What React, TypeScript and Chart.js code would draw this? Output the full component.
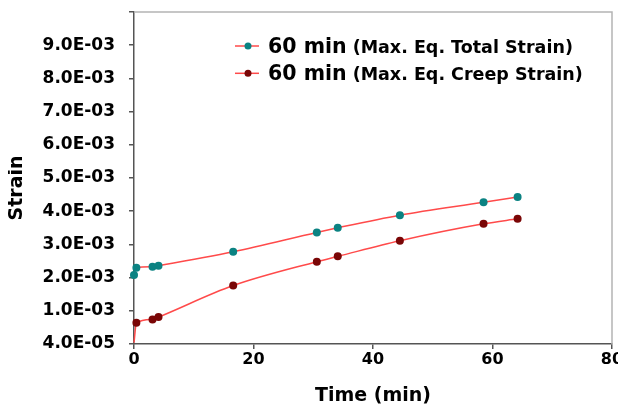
import React, { useEffect, useRef } from "react";
import { Chart, registerables } from "chart.js";

Chart.register(...registerables);

// ---- data ----
const totalTimes = [0, 0.4, 3.1, 4.1, 16.6, 30.6, 34.1, 44.5, 58.5, 64.2];
const totalStrain = [0.00208, 0.0023, 0.00233, 0.00236, 0.00278, 0.00336, 0.0035, 0.00388, 0.00427, 0.00443];
const creepTimes = [0, 0.4, 3.1, 4.1, 16.6, 30.6, 34.1, 44.5, 58.5, 64.2];
const creepStrain = [0.00004, 0.00064, 0.00074, 0.00081, 0.00176, 0.00248, 0.00264, 0.00311, 0.00362, 0.00377];

const seriesLeads = ["60 min", "60 min"];
const seriesNotes = ["(Max. Eq. Total Strain)", "(Max. Eq. Creep Strain)"];

const yTickLabels = ["4.0E-05", "1.0E-03", "2.0E-03", "3.0E-03", "4.0E-03", "5.0E-03", "6.0E-03", "7.0E-03", "8.0E-03", "9.0E-03", ""];
const xTickLabels = ["0", "20", "40", "60", "80"];
const xTitle = "Time (min)";
const yTitle = "Strain";

const TEAL = "#0b8282";
const MAROON = "#7a0606";
const LINE = "#ff4a4a";
const FONT = "'DejaVu Sans', sans-serif";

const legendPlugin = {
  id: "customLegend",
  afterDraw(chart: any) {
    const ctx = chart.ctx;
    const markers = [TEAL, MAROON];
    const rowY = [38, 65.3];
    ctx.save();
    for (let i = 0; i < seriesLeads.length; i++) {
      const y = rowY[i];
      ctx.strokeStyle = LINE;
      ctx.lineWidth = 1.5;
      ctx.beginPath();
      ctx.moveTo(227, y);
      ctx.lineTo(251, y);
      ctx.stroke();
      ctx.fillStyle = markers[i];
      ctx.beginPath();
      ctx.arc(240, y, 3.5, 0, Math.PI * 2);
      ctx.fill();
      ctx.fillStyle = "#000";
      ctx.textBaseline = "alphabetic";
      ctx.textAlign = "left";
      ctx.font = `bold 20.5px ${FONT}`;
      const base = y + 6.5;
      ctx.fillText(seriesLeads[i], 260, base);
      const w = ctx.measureText(seriesLeads[i]).width;
      ctx.font = `bold 17.5px ${FONT}`;
      ctx.fillText(seriesNotes[i], 260 + w + 6, base);
    }
    ctx.restore();
  },
};

const framePlugin = {
  id: "frame",
  beforeDatasetsDraw(chart: any) {
    const { ctx, chartArea } = chart;
    ctx.save();
    ctx.strokeStyle = "#b4b4b4";
    ctx.lineWidth = 1.5;
    ctx.beginPath();
    ctx.moveTo(chartArea.left, chartArea.top);
    ctx.lineTo(chartArea.right, chartArea.top);
    ctx.lineTo(chartArea.right, chartArea.bottom);
    ctx.stroke();
    ctx.restore();
  },
};

export default function App() {
  const ref = useRef<HTMLCanvasElement | null>(null);

  useEffect(() => {
    if (!ref.current) return;
    Chart.defaults.font.family = FONT;
    Chart.defaults.color = "#000";
    const chart = new Chart(ref.current, {
      type: "line",
      data: {
        datasets: [
          {
            label: seriesLeads[0] + " " + seriesNotes[0],
            data: totalTimes.map((t, i) => ({ x: t, y: totalStrain[i] })),
            borderColor: LINE,
            borderWidth: 1.5,
            pointBackgroundColor: TEAL,
            pointBorderColor: TEAL,
            pointBorderWidth: 0,
            pointRadius: 4,
            cubicInterpolationMode: "monotone",
            clip: false,
          },
          {
            label: seriesLeads[1] + " " + seriesNotes[1],
            data: creepTimes.map((t, i) => ({ x: t, y: creepStrain[i] })),
            borderColor: LINE,
            borderWidth: 1.5,
            pointBackgroundColor: MAROON,
            pointBorderColor: MAROON,
            pointBorderWidth: 0,
            pointRadius: (c: any) => (c.dataIndex === 0 ? 0 : 4),
            cubicInterpolationMode: "monotone",
            clip: false,
          },
        ],
      },
      options: {
        responsive: false,
        animation: false,
        devicePixelRatio: 1,
        layout: { padding: { top: -2, right: 6, left: 0, bottom: 0 } },
        plugins: {
          legend: { display: false },
          tooltip: { enabled: false },
        },
        scales: {
          x: {
            type: "linear",
            min: 0,
            max: 80,
            afterFit: (s: any) => {
              s.height = 62;
              s.paddingLeft = 0;
              s.paddingRight = 0;
            },
            border: { color: "#555", width: 1.5 },
            grid: { drawOnChartArea: false, drawTicks: true, tickLength: 5, color: "#555", lineWidth: 1.5 },
            ticks: {
              stepSize: 20,
              padding: 1,
              font: { size: 16, weight: "bold" },
              callback: (_v: any, i: number) => xTickLabels[i],
            },
            title: {
              display: true,
              text: xTitle,
              padding: 0,
              font: { size: 19, weight: "bold", lineHeight: 1 },
            },
          },
          y: {
            type: "linear",
            min: 0,
            max: 0.01,
            afterFit: (s: any) => {
              s.width = 126;
              s.paddingTop = 0;
              s.paddingBottom = 0;
            },
            border: { color: "#555", width: 1.5 },
            grid: { drawOnChartArea: false, drawTicks: true, tickLength: 5, color: "#555", lineWidth: 1.5 },
            ticks: {
              stepSize: 0.001,
              padding: 14,
              font: { size: 17, weight: "bold" },
              callback: (_v: any, i: number) => yTickLabels[i],
            },
            title: {
              display: true,
              text: yTitle + "   ",
              padding: 0,
              font: { size: 19, weight: "bold", lineHeight: 1 },
            },
          },
        },
      },
      plugins: [framePlugin, legendPlugin],
    } as any);
    return () => chart.destroy();
  }, []);

  return (
    <div style={{ width: 610, height: 398 }}>
      <canvas ref={ref} width={610} height={398} style={{ display: "block" }} />
    </div>
  );
}
